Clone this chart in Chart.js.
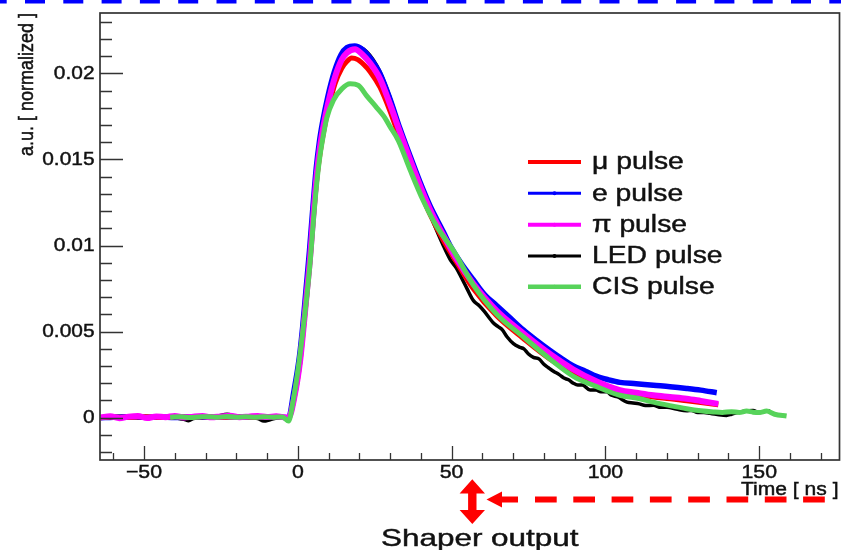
<!DOCTYPE html>
<html>
<head>
<meta charset="utf-8">
<script src="https://cdn.jsdelivr.net/npm/chart.js@4.4.0/dist/chart.umd.min.js"></script>
<style>
  html, body { margin: 0; padding: 0; background: #fff; }
  canvas { display: block; }
</style>
</head>
<body>
<canvas id="pulses" width="841" height="550"></canvas>
<script>
// time axis ticks
const timeTicks = [-50, 0, 50, 100, 150];
const timeLabels = ['\u221250', '0', '50', '100', '150'];
const ampTicks = [0, 0.005, 0.01, 0.015, 0.02];
const ampLabels = ['0', '0.005', '0.01', '0.015', '0.02'];

const seriesNames = ['\u03bc pulse', 'e pulse', '\u03c0 pulse', 'LED pulse', 'CIS pulse'];

// mu pulse
const muTime = [-64,-60,-55,-50,-45,-40,-35,-30,-25,-20,-15,-10,-5,-3,-1,0.75,1.8,2.9,4.0,5.1,6.2,7.2,8.3,9.9,12.1,14.3,16,17.5,19.5,21.5,23.5,26.7,30,33.2,36.5,39.7,43,47.3,51.7,57,64.7,73.3,82,89.6,97.2,104.7,110,115.6,121,126.4,131,136.7];
const muValue = [0,0.00004,0.00002,0.00006,0.00001,0.00005,0.00003,0.00006,0.00002,0.00005,0.00003,0.00006,0.00002,0,0.0013,0.0033,0.0051,0.0071,0.0092,0.0117,0.0139,0.0153,0.0165,0.0179,0.0194,0.0203,0.0207,0.0209,0.0208,0.0205,0.0201,0.0192,0.0178,0.0162,0.0147,0.0132,0.0118,0.0103,0.0090,0.0075,0.0059,0.0046,0.0034,0.0026,0.0019,0.0015,0.00135,0.0012,0.0011,0.00098,0.00088,0.00075];

// e pulse
const eTime = [-64,-60,-55,-50,-45,-40,-35,-30,-25,-20,-15,-10,-5,-3,-1.3,0.5,1.6,2.7,3.8,4.9,6,7,8.1,9.7,11.9,14.1,16,18.5,21,23.5,26.7,30,33.2,36.5,39.7,43,47.3,49.5,53,57.1,60.5,64.7,69,73.3,77.5,82,86,89.6,93.5,97.2,101,104.7,110,115.6,121,126.4,131,136.2];
const eValue = [0,0.00003,0.00005,0.00002,0.00004,0.00001,0.00005,0.00002,0.00004,0.00006,0.00002,0.00004,0.00003,0,0.0015,0.0035,0.0053,0.0075,0.0097,0.0122,0.0145,0.016,0.0172,0.0186,0.0201,0.0211,0.0215,0.0216,0.0214,0.0209,0.0200,0.0185,0.0168,0.0152,0.0137,0.0123,0.0108,0.0100,0.0090,0.0080,0.0072,0.0065,0.0058,0.0051,0.0045,0.0039,0.0034,0.0030,0.0027,0.0024,0.0022,0.00205,0.00197,0.00188,0.0018,0.0017,0.0016,0.00145];

// pi pulse
const piTime = [-64,-61,-58,-55,-52,-49,-46,-43,-40,-37,-34,-31,-28,-25,-22,-19,-16,-13,-10,-7,-5,-3,-1,0.75,1.8,2.9,4.0,5.1,6.2,7.2,8.3,9.9,12.1,14.3,16,18.6,21,23.5,26.7,30,33.2,36.5,39.7,43,47.3,51.7,57,64.7,73.3,82,89.6,97.2,104.7,110,115.6,121,126.4,131,136.7];
const piValue = [0.00002,0.00008,-0.00003,0.00006,0.0001,-0.00002,0.00007,0.00003,0.0001,0.00001,0.00006,0.00009,0.00002,0.00007,0.00011,0.00003,0.00006,0.0001,0.00004,0.00008,0.00003,0,0.0013,0.0033,0.0051,0.0072,0.0093,0.0119,0.0142,0.0157,0.0169,0.0183,0.0198,0.0208,0.0212,0.0214,0.0211,0.0206,0.0197,0.0182,0.0166,0.0150,0.0135,0.0121,0.0106,0.0092,0.0078,0.0062,0.0049,0.0037,0.0028,0.0021,0.0016,0.00145,0.0013,0.0012,0.0011,0.00097,0.0008];

// LED pulse
const ledTime = [-40,-37,-35.5,-34,-30,-26,-23,-20,-16,-13,-11,-9,-6,-3,-1.2,0.6,1.7,2.8,3.9,5,6.1,7.1,8.2,9.8,12,14.2,16.5,18.5,20.5,22.4,24.5,26.7,30,33.2,36.5,39.7,43,47.3,49.5,51.5,53,55,57.1,59,60.5,63.6,65,66.5,68,70.1,72,73.5,75,76.6,78.5,80,81.5,83.1,85,86.5,88,89.6,91,92.5,95,97,98.5,100.4,102,104,107,109,111,113,115.6,118,120,123,126.4,128,130,132,134,136,139.4,141,143,145,148,150,151.5,153.6];
const ledValue = [0,-0.0001,-0.00018,-0.00005,0.00003,0.0001,0.0002,0.00008,0.00002,-0.00005,-0.0002,-0.00012,0,0,0.0016,0.0036,0.0054,0.0076,0.0098,0.0122,0.0145,0.016,0.0172,0.0186,0.0201,0.0210,0.0214,0.02155,0.0215,0.02126,0.0208,0.0201,0.0186,0.0168,0.0150,0.0133,0.0118,0.0100,0.0092,0.0087,0.0082,0.0075,0.0068,0.0065,0.0062,0.0055,0.0053,0.0051,0.0047,0.0043,0.0041,0.0040,0.0037,0.0035,0.0034,0.0031,0.0029,0.0027,0.0025,0.0023,0.0022,0.0020,0.0019,0.0019,0.0016,0.0016,0.0015,0.0015,0.0013,0.0012,0.0009,0.00085,0.0008,0.0007,0.00072,0.0006,0.0006,0.0005,0.0004,0.00042,0.0003,0.0003,0.00025,0.0002,0.00013,0.0002,0.0003,0.00038,0.00042,0.0003,0.00035,0.0004];

// CIS pulse
const cisTime = [-41.5,-38,-35,-32,-29,-26,-23,-20,-17,-14,-11,-8,-5,-3,-1.5,0,1.5,2.9,4,5.1,6.2,7.2,8.3,9.4,11.6,14.3,17,19.7,22.4,25.7,28,30,32.7,36.5,40.8,45.2,50.6,57.1,64.7,73.3,82,89.6,97.2,104.7,111.2,115.6,121,126.4,131,135.1,138,141,143.5,145.9,148,150,152.4,155,158.9];
const cisValue = [0.00002,0.00005,0.00001,0.00004,0.00006,0.00002,0.00007,0.00003,0.00005,0.00002,0.00006,0.00003,0.00004,-0.0002,0.001,0.0027,0.0048,0.007,0.009,0.0115,0.0137,0.0152,0.0164,0.0174,0.01845,0.0191,0.0194,0.0193,0.0187,0.018,0.0175,0.0169,0.0161,0.0144,0.0126,0.0111,0.0097,0.0077,0.006,0.0047,0.0034,0.0024,0.0018,0.0013,0.0011,0.0009,0.0007,0.00052,0.0004,0.00033,0.0003,0.00035,0.0003,0.00038,0.00032,0.0003,0.00038,0.0002,0.0001];

const colors = ['#ff0000', '#0000ff', '#ff00ff', '#000000', '#57d35a'];
const widths = [5, 5.5, 6, 3.5, 5];
const legendWidths = [4, 3, 4, 3, 4.5];
const drawOrder = [2, 3, 1, 4, 0];

function pts(t, v) {
    return t.map((x, i) => ({ x: x, y: v[i] }));
}

const allSeries = [
    pts(muTime, muValue),
    pts(eTime, eValue),
    pts(piTime, piValue),
    pts(ledTime, ledValue),
    pts(cisTime, cisValue)
];

// text is a bit wider and heavier in the original picture
function wideText(ctx, text, x, y, sx, align) {
    ctx.save();
    ctx.translate(x, y);
    ctx.scale(sx, 1);
    ctx.textAlign = align;
    ctx.lineWidth = 0.45;
    ctx.strokeStyle = ctx.fillStyle;
    ctx.fillText(text, 0, 0);
    ctx.strokeText(text, 0, 0);
    ctx.restore();
}

const framePlugin = {
    id: 'rootFrame',
    afterDraw(chart) {
        const ctx = chart.ctx;
        const a = chart.chartArea;
        const xs = chart.scales.x;
        const ys = chart.scales.y;
        ctx.save();

        // frame
        ctx.strokeStyle = '#333';
        ctx.lineWidth = 1.7;
        ctx.strokeRect(a.left, a.top, a.right - a.left, a.bottom - a.top);

        // x ticks (inside)
        ctx.lineWidth = 1.3;
        ctx.beginPath();
        for (let t = -60; t <= 170; t += 10) {
            const px = Math.round(xs.getPixelForValue(t)) + 0.5;
            const len = (t % 50 === 0) ? 14 : 7;
            ctx.moveTo(px, a.bottom);
            ctx.lineTo(px, a.bottom - len);
        }
        // y ticks (inside)
        for (let k = -2; k <= 23; k++) {
            const py = Math.round(ys.getPixelForValue(k * 0.001)) + 0.5;
            const len = (k % 5 === 0) ? 23 : 12;
            ctx.moveTo(a.left, py);
            ctx.lineTo(a.left + len, py);
        }
        ctx.stroke();

        // tick labels
        ctx.fillStyle = '#111';
        ctx.font = '19px "Liberation Sans", Arial, sans-serif';
        ctx.textBaseline = 'middle';
        timeTicks.forEach((t, i) => {
            wideText(ctx, timeLabels[i], xs.getPixelForValue(t), a.bottom + 12.5, 1.12, 'center');
        });
        ampTicks.forEach((v, i) => {
            wideText(ctx, ampLabels[i], a.left - 5.5, ys.getPixelForValue(v) + 0.5, 1.1, 'right');
        });

        // axis titles
        ctx.textBaseline = 'alphabetic';
        ctx.font = '18px "Liberation Sans", Arial, sans-serif';
        wideText(ctx, 'Time [ ns ]', a.right - 1, 495, 1.17, 'right');
        ctx.save();
        ctx.translate(33, a.top);
        ctx.rotate(-Math.PI / 2);
        ctx.lineWidth = 0.45;
        ctx.strokeStyle = ctx.fillStyle;
        ctx.scale(1, 1.1);
        ctx.textAlign = 'right';
        ctx.fillText('a.u. [ normalized ]', 0, 0);
        ctx.strokeText('a.u. [ normalized ]', 0, 0);
        ctx.restore();

        // legend
        const legendY = [162, 193.3, 224.8, 256, 286.8];
        ctx.font = '23px "Liberation Sans", Arial, sans-serif';
        ctx.textBaseline = 'middle';
        seriesNames.forEach((name, i) => {
            ctx.strokeStyle = colors[i];
            ctx.lineWidth = legendWidths[i];
            ctx.beginPath();
            ctx.moveTo(528, legendY[i]);
            ctx.lineTo(581, legendY[i]);
            ctx.stroke();
            ctx.fillStyle = colors[i];
            ctx.beginPath();
            ctx.arc(554.5, legendY[i], 2, 0, Math.PI * 2);
            ctx.fill();
            ctx.fillStyle = '#111';
            wideText(ctx, name, 592, legendY[i] + 1, 1.23, 'left');
        });

        // blue dashed line at top
        ctx.strokeStyle = '#0000ff';
        ctx.lineWidth = 6;
        ctx.setLineDash([20, 18.3]);
        ctx.beginPath();
        ctx.moveTo(-13.3, 0.5);
        ctx.lineTo(841, 0.5);
        ctx.stroke();

        // red dashed arrow
        ctx.strokeStyle = '#ff0000';
        ctx.lineWidth = 6;
        ctx.setLineDash([]);
        ctx.beginPath();
        ctx.moveTo(500, 499.5);
        ctx.lineTo(518, 499.5);
        ctx.stroke();
        ctx.setLineDash([21.7, 16.6]);
        ctx.beginPath();
        ctx.moveTo(535, 499.5);
        ctx.lineTo(841, 499.5);
        ctx.stroke();
        ctx.setLineDash([]);
        ctx.fillStyle = '#ff0000';
        ctx.beginPath();
        ctx.moveTo(486.5, 499.5);
        ctx.lineTo(502, 491.5);
        ctx.lineTo(502, 507.5);
        ctx.closePath();
        ctx.fill();

        // vertical double arrow
        ctx.beginPath();
        ctx.moveTo(472.3, 479.3);
        ctx.lineTo(485, 493.5);
        ctx.lineTo(476.5, 493.5);
        ctx.lineTo(476.5, 510);
        ctx.lineTo(485, 510);
        ctx.lineTo(472.3, 524);
        ctx.lineTo(459.6, 510);
        ctx.lineTo(468.1, 510);
        ctx.lineTo(468.1, 493.5);
        ctx.lineTo(459.6, 493.5);
        ctx.closePath();
        ctx.fill();

        // caption
        ctx.fillStyle = '#111';
        ctx.textBaseline = 'alphabetic';
        ctx.font = '24px "Liberation Sans", Arial, sans-serif';
        wideText(ctx, 'Shaper output', 381, 545.5, 1.31, 'left');

        ctx.restore();
    }
};

new Chart(document.getElementById('pulses'), {
    type: 'line',
    data: {
        datasets: allSeries.map((d, i) => ({
            label: seriesNames[i],
            data: d,
            borderColor: colors[i],
            backgroundColor: colors[i],
            borderWidth: widths[i],
            pointRadius: 0,
            fill: false,
            cubicInterpolationMode: 'monotone',
            order: drawOrder[i]
        }))
    },
    options: {
        responsive: false,
        animation: false,
        devicePixelRatio: 1,
        layout: { padding: { left: 100, right: 1.5, top: 13, bottom: 90 } },
        scales: {
            x: { type: 'linear', min: -64.3, max: 176.1, display: false },
            y: { type: 'linear', min: -0.00246, max: 0.02351, display: false }
        },
        plugins: {
            legend: { display: false },
            tooltip: { enabled: false }
        }
    },
    plugins: [framePlugin]
});
</script>
</body>
</html>
